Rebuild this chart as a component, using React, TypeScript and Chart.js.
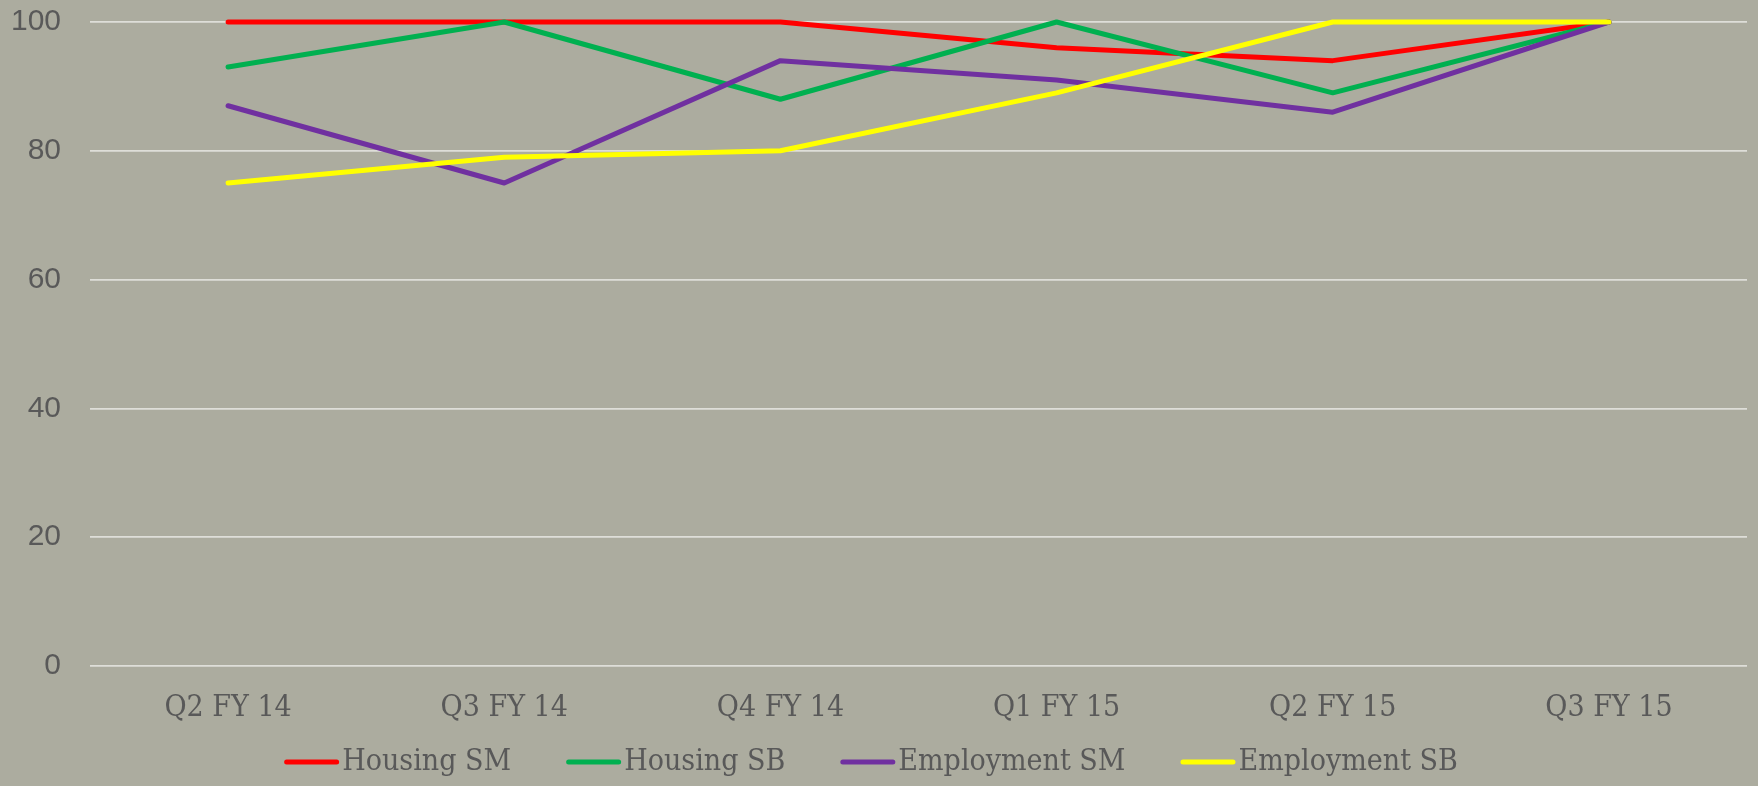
import React, { useEffect, useRef } from "react";
import { Chart, registerables } from "chart.js";

Chart.register(...registerables);

const categories = ["Q2 FY 14", "Q3 FY 14", "Q4 FY 14", "Q1 FY 15", "Q2 FY 15", "Q3 FY 15"];
const housingSM = [100, 100, 100, 96, 94, 100];
const housingSB = [93, 100, 88, 100, 89, 100];
const employmentSM = [87, 75, 94, 91, 86, 100];
const employmentSB = [75, 79, 80, 89, 100, 100];
const seriesNames = ["Housing SM", "Housing SB", "Employment SM", "Employment SB"];
const seriesColors = ["#FF0000", "#00B050", "#7030A0", "#FFFF00"];
const yMin = 0;
const yMax = 100;
const yStep = 20;

const BG = "#ACAC9F";
const TEXT = "#595959";
const SERIF = "'DejaVu Serif Condensed', 'DejaVu Serif', serif";
const SANS = "'Liberation Sans', Arial, sans-serif";

const bgPlugin = {
  id: "bgFill",
  beforeDraw(chart: any) {
    const ctx = chart.ctx;
    ctx.save();
    ctx.fillStyle = BG;
    ctx.fillRect(0, 0, chart.width, chart.height);
    ctx.restore();
  },
};

const legendPlugin = {
  id: "customLegend",
  afterDraw(chart: any) {
    const ctx = chart.ctx;
    const lineW = 55;
    const textGap = 3;
    const itemGap = 55;
    ctx.save();
    ctx.font = `30px ${SERIF}`;
    const widths = seriesNames.map((n) => ctx.measureText(n).width);
    const total =
      widths.reduce((a, w) => a + lineW + textGap + w, 0) + itemGap * (seriesNames.length - 1);
    let x = chart.width / 2 - 8 - total / 2;
    const y = 762;
    seriesNames.forEach((name, i) => {
      ctx.strokeStyle = seriesColors[i];
      ctx.lineWidth = 5;
      ctx.lineCap = "round";
      ctx.beginPath();
      ctx.moveTo(x + 2.5, y);
      ctx.lineTo(x + lineW - 2.5, y);
      ctx.stroke();
      ctx.fillStyle = TEXT;
      ctx.textBaseline = "middle";
      ctx.textAlign = "left";
      ctx.fillText(name, x + lineW + textGap, y);
      x += lineW + textGap + widths[i] + itemGap;
    });
    ctx.restore();
  },
};

export default function App() {
  const ref = useRef<HTMLCanvasElement | null>(null);

  useEffect(() => {
    document.body.style.margin = "0";
    document.body.style.background = BG;
    const canvas = ref.current!;
    const series = [housingSM, housingSB, employmentSM, employmentSB];
    const chart = new Chart(canvas, {
      type: "line",
      data: {
        labels: categories,
        datasets: series.map((data, i) => ({
          label: seriesNames[i],
          data,
          borderColor: seriesColors[i],
          backgroundColor: seriesColors[i],
          borderWidth: 5,
          pointRadius: 0,
          pointHoverRadius: 0,
          tension: 0,
          fill: false,
          borderJoinStyle: "round" as const,
          borderCapStyle: "round" as const,
          clip: false as any,
          order: series.length - i,
        })),
      },
      options: {
        animation: false,
        responsive: false,
        maintainAspectRatio: false,
        devicePixelRatio: 1,
        layout: { padding: { top: 22, right: 11, left: 0, bottom: 0 } },
        plugins: {
          legend: { display: false },
          tooltip: { enabled: false },
          title: { display: false },
        },
        scales: {
          x: {
            offset: true,
            grid: { display: false, drawTicks: false },
            border: { display: false },
            ticks: {
              color: TEXT,
              font: { family: SERIF, size: 30 },
              padding: 24,
              maxRotation: 0,
            },
            afterFit: (s: any) => {
              s.height = 120;
              s.paddingTop = 0;
            },
          },
          y: {
            min: yMin,
            max: yMax,
            grid: { color: "#DEDED8", lineWidth: 1.8, drawTicks: false },
            border: { display: false },
            ticks: {
              stepSize: yStep,
              color: TEXT,
              font: { family: SANS, size: 30 },
              padding: 29,
            },
            afterFit: (s: any) => {
              s.width = 90;
              s.paddingTop = 0;
              s.paddingBottom = 0;
            },
          },
        },
      },
      plugins: [bgPlugin, legendPlugin],
    });
    return () => chart.destroy();
  }, []);

  return (
    <div style={{ position: "absolute", left: 0, top: 0, width: 1758, height: 786 }}>
      <canvas ref={ref} width={1758} height={786} style={{ width: 1758, height: 786, display: "block" }} />
    </div>
  );
}
